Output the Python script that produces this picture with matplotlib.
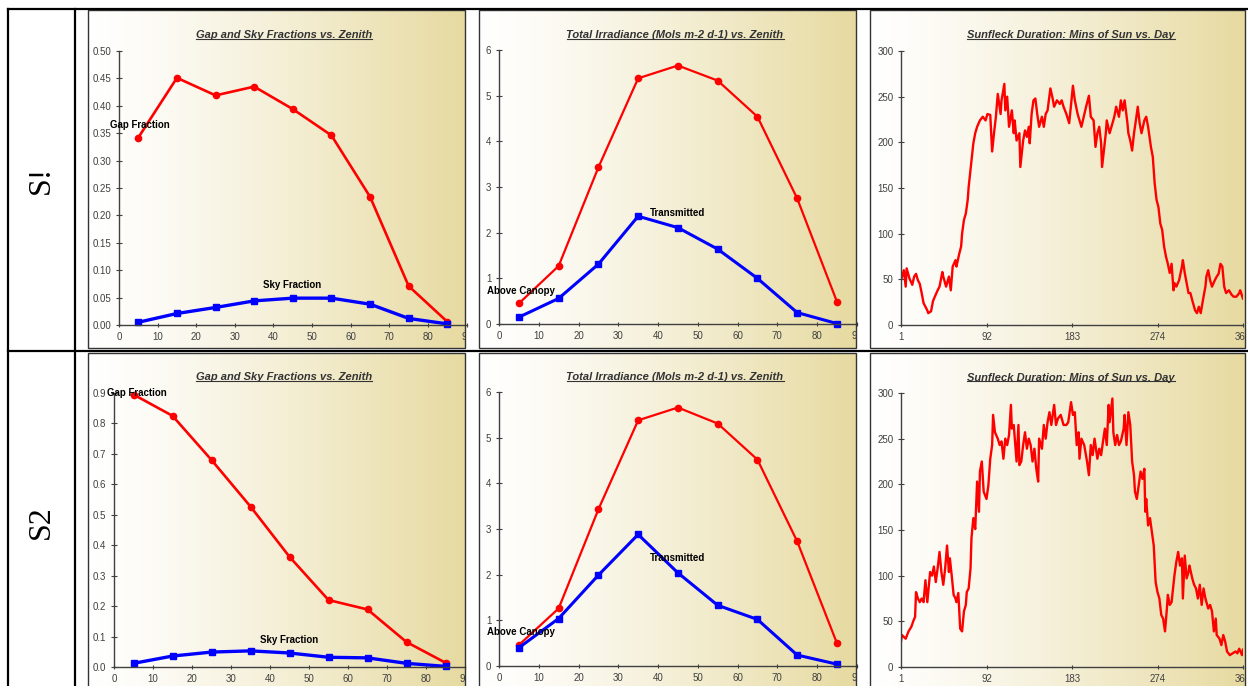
import numpy as np
import matplotlib
matplotlib.use("Agg")
import matplotlib.pyplot as plt
from matplotlib import font_manager
from matplotlib.lines import Line2D
from matplotlib.patches import Rectangle

W, H = 1248, 686

# ---- data ----
zenith = [5, 15, 25, 35, 45, 55, 65, 75, 85]

gap_s1 = [0.342, 0.451, 0.419, 0.435, 0.394, 0.346, 0.234, 0.071, 0.006]
sky_s1 = [0.005, 0.021, 0.032, 0.044, 0.049, 0.049, 0.038, 0.012, 0.002]
above_s1 = [0.45, 1.27, 3.43, 5.38, 5.66, 5.33, 4.54, 2.75, 0.49]
trans_s1 = [0.15, 0.56, 1.31, 2.36, 2.11, 1.64, 1.00, 0.25, 0.01]

gap_s2 = [0.895, 0.825, 0.680, 0.527, 0.362, 0.220, 0.189, 0.082, 0.014]
sky_s2 = [0.012, 0.036, 0.049, 0.053, 0.046, 0.032, 0.030, 0.012, 0.002]
above_s2 = [0.46, 1.26, 3.43, 5.38, 5.66, 5.31, 4.52, 2.73, 0.50]
trans_s2 = [0.40, 1.04, 1.99, 2.88, 2.04, 1.33, 1.02, 0.24, 0.04]

sun_days_s1 = [1, 4, 6, 7, 10, 13, 15, 17, 19, 21,
               23, 25, 29, 30, 33, 35, 37, 40, 42, 45,
               46, 49, 52, 54, 56, 59, 60, 63, 65, 66,
               68, 70, 72, 73, 75, 76, 78, 80, 82, 85,
               88, 91, 93, 96, 98, 100, 102, 104, 107, 108,
               111, 112, 114, 116, 119, 121, 122, 124, 127, 128,
               131, 133, 135, 137, 138, 140, 142, 144, 146, 148,
               151, 153, 155, 157, 160, 162, 164, 167, 170, 172,
               174, 177, 180, 182, 184, 186, 189, 191, 193, 195,
               198, 201, 203, 206, 208, 210, 212, 214, 215, 217,
               219, 220, 223, 225, 228, 230, 233, 235, 237, 239,
               242, 243, 245, 247, 249, 251, 253, 255, 257, 260,
               262, 264, 267, 269, 271, 273, 275, 277, 279, 281,
               283, 285, 287, 289, 291, 292, 294, 297, 300, 301,
               303, 305, 307, 309, 311, 314, 316, 318, 320, 323,
               325, 326, 328, 330, 332, 335, 337, 339, 341, 343,
               345, 347, 350, 353, 355, 358, 361, 362, 365]
sun_mins_s1 = [49, 60, 42, 62, 51, 44, 53, 56, 49, 45,
               35, 24, 16, 13, 15, 26, 31, 38, 42, 58,
               53, 42, 53, 38, 64, 71, 64, 78, 86, 100,
               115, 122, 137, 151, 170, 180, 199, 210, 217, 224,
               228, 224, 231, 230, 190, 210, 228, 253, 231, 246,
               264, 235, 250, 217, 235, 210, 224, 202, 210, 173,
               202, 213, 206, 217, 199, 231, 246, 248, 231, 217,
               228, 217, 231, 235, 259, 250, 239, 246, 242, 246,
               239, 231, 221, 242, 262, 246, 231, 224, 217, 226,
               239, 251, 228, 224, 195, 210, 217, 199, 173, 191,
               210, 224, 210, 217, 228, 239, 228, 246, 235, 246,
               221, 210, 202, 191, 210, 224, 239, 221, 210, 224,
               228, 217, 195, 184, 155, 137, 129, 111, 104, 86,
               75, 67, 57, 67, 38, 46, 42, 49, 64, 71,
               57, 46, 35, 35, 27, 16, 13, 20, 13, 31,
               42, 53, 60, 49, 42, 49, 53, 56, 67, 64,
               42, 35, 38, 33, 31, 31, 35, 38, 29]

sun_days_s2 = [1, 2, 6, 9, 12, 14, 16, 17, 19, 21,
               23, 25, 27, 29, 30, 32, 34, 36, 38, 40,
               42, 44, 46, 48, 50, 52, 53, 55, 57, 59,
               60, 62, 64, 66, 68, 70, 71, 73, 75, 76,
               78, 80, 82, 84, 85, 87, 89, 92, 94, 96,
               98, 99, 101, 104, 106, 108, 110, 112, 114, 116,
               118, 119, 121, 124, 126, 127, 129, 131, 133, 135,
               137, 139, 141, 143, 145, 147, 148, 151, 153, 155,
               157, 159, 161, 164, 166, 168, 171, 174, 177, 179,
               182, 184, 186, 188, 190, 191, 193, 196, 199, 201,
               203, 205, 207, 210, 212, 214, 216, 218, 220, 222,
               223, 226, 227, 229, 231, 233, 235, 238, 239, 241,
               243, 245, 247, 249, 250, 252, 254, 256, 258, 260,
               261, 262, 264, 266, 268, 270, 272, 274, 276, 278,
               280, 282, 284, 285, 287, 289, 291, 292, 294, 296,
               298, 300, 301, 303, 305, 307, 308, 311, 313, 315,
               317, 319, 321, 323, 325, 328, 330, 332, 334, 336,
               337, 340, 342, 344, 346, 348, 351, 354, 357, 359,
               361, 364, 365]
sun_mins_s2 = [28, 35, 31, 39, 44, 50, 55, 82, 75, 71,
               75, 71, 95, 71, 82, 104, 100, 110, 93, 108,
               126, 104, 90, 108, 133, 104, 119, 100, 79, 75,
               71, 81, 42, 39, 61, 68, 82, 86, 108, 141,
               163, 151, 203, 170, 214, 225, 192, 184, 199, 228,
               243, 276, 257, 250, 243, 247, 228, 250, 243, 254,
               287, 261, 265, 225, 265, 221, 225, 243, 257, 239,
               250, 243, 225, 239, 217, 203, 250, 239, 265, 250,
               268, 279, 265, 287, 265, 272, 276, 265, 265, 268,
               290, 276, 279, 243, 257, 228, 250, 243, 225, 210,
               243, 232, 250, 228, 239, 232, 247, 261, 243, 287,
               268, 294, 257, 243, 254, 243, 247, 261, 276, 243,
               279, 265, 225, 210, 192, 184, 199, 214, 206, 217,
               170, 184, 155, 163, 148, 133, 93, 82, 75, 57,
               53, 39, 64, 79, 68, 71, 90, 100, 115, 126,
               111, 119, 75, 122, 97, 104, 111, 97, 90, 86,
               75, 90, 68, 86, 75, 64, 68, 61, 39, 53,
               35, 31, 24, 35, 28, 17, 13, 15, 17, 15,
               20, 13, 19]

row_labels = ["S!", "S2"]
titles = ["Gap and Sky Fractions vs. Zenith",
          "Total Irradiance (Mols m-2 d-1) vs. Zenith",
          "Sunfleck Duration: Mins of Sun vs. Day"]
zen_ticks = [0, 10, 20, 30, 40, 50, 60, 70, 80, 90]
day_ticks = [1, 92, 183, 274, 365]

names = {f.name for f in font_manager.fontManager.ttflist}
NARROW = "Liberation Sans Narrow" if "Liberation Sans Narrow" in names else "Liberation Sans"
SERIF = "Liberation Serif" if "Liberation Serif" in names else "DejaVu Serif"

RED = "#ff0000"
BLUE = "#0000ff"
GREY = "#404040"


def rect(x0, y0, x1, y1):
    # pixel box (top-left origin) -> figure fraction
    return [x0 / W, 1 - y1 / H, (x1 - x0) / W, (y1 - y0) / H]


fig = plt.figure(figsize=(W / 100, H / 100), dpi=100)
fig.patch.set_facecolor("white")

# gradient used for the chart backgrounds
g = np.linspace(0, 1, 300) ** 1.25
c0 = np.array([1.0, 1.0, 1.0])
c1 = np.array([0.905, 0.855, 0.63])
grad = (c0 + (c1 - c0) * g[:, None])[None, :, :]

panel_x = [(88, 465), (479, 856), (870, 1245)]
panel_y = [(10, 348), (353, 720)]

bg_axes = {}
for r, (py0, py1) in enumerate(panel_y):
    for c, (px0, px1) in enumerate(panel_x):
        b = fig.add_axes(rect(px0, py0, px1, py1), zorder=0)
        b.imshow(grad, aspect="auto", extent=[0, 1, 0, 1])
        b.set_axis_off()
        bg_axes[(r, c)] = b
        fig.add_artist(Rectangle((px0 / W, 1 - py1 / H), (px1 - px0) / W, (py1 - py0) / H,
                                 transform=fig.transFigure, fill=False,
                                 edgecolor="#333333", lw=1.0, zorder=5))

# plot area boxes (left, top, right, bottom) in pixels
plot_boxes = {
    (0, 0): (119, 51, 466.6, 325),
    (0, 1): (499, 50, 856.8, 324),
    (0, 2): (901, 51, 1243, 325),
    (1, 0): (114, 393, 465, 667),
    (1, 1): (499, 392, 856.8, 666),
    (1, 2): (901, 393, 1243, 667),
}


def make_ax(key):
    x0, y0, x1, y1 = plot_boxes[key]
    ax = fig.add_axes(rect(x0, y0, x1, y1), zorder=2)
    ax.patch.set_visible(False)
    for s in ["top", "right"]:
        ax.spines[s].set_visible(False)
    for s in ["left", "bottom"]:
        ax.spines[s].set_color(GREY)
        ax.spines[s].set_linewidth(1.0)
    ax.tick_params(axis="y", direction="inout", length=5, width=0.8, color=GREY,
                   labelsize=7, labelcolor=GREY, pad=3)
    ax.tick_params(axis="x", direction="inout", length=3, width=0.8, color=GREY,
                   labelsize=7, labelcolor=GREY, pad=3.5)
    return ax


def finish(ax, key):
    # the reference crops the last x label at the chart edge
    for lbl in ax.get_xticklabels() + ax.get_yticklabels():
        lbl.set_family(NARROW)
        lbl.set_clip_box(bg_axes[key].bbox)
        lbl.set_clip_on(True)


def label(ax, x, y, s, ha="left"):
    ax.text(x, y, s, ha=ha, va="center", fontsize=7, fontweight="bold",
            family=NARROW, color="black", clip_on=False, zorder=6)


rows = [
    dict(gap=gap_s1, sky=sky_s1, above=above_s1, trans=trans_s1,
         days=sun_days_s1, mins=sun_mins_s1, gmax=0.5,
         gticks=np.arange(0, 0.501, 0.05), gfmt="{:.2f}",
         gap_lbl=(-2.3, 0.365), sky_lbl=(44.7, 0.073),
         above_lbl=(-3.0, 0.72), trans_lbl=(38.0, 2.43)),
    dict(gap=gap_s2, sky=sky_s2, above=above_s2, trans=trans_s2,
         days=sun_days_s2, mins=sun_mins_s2, gmax=0.9,
         gticks=np.arange(0, 0.901, 0.1), gfmt="{:.1f}",
         gap_lbl=(-1.9, 0.901), sky_lbl=(44.8, 0.088),
         above_lbl=(-3.0, 0.74), trans_lbl=(38.0, 2.36)),
]

for r, d in enumerate(rows):
    # gap / sky fractions
    ax = make_ax((r, 0))
    ax.plot(zenith, d["gap"], color=RED, lw=1.9, marker="o", ms=4.5, clip_on=False)
    ax.plot(zenith, d["sky"], color=BLUE, lw=2.4, marker="s", ms=4.5, clip_on=False)
    ax.set_xlim(0, 90)
    ax.set_ylim(0, d["gmax"])
    ax.set_xticks(zen_ticks)
    ax.set_xticklabels([str(t) for t in zen_ticks])
    ax.set_yticks(d["gticks"])
    ax.set_yticklabels([d["gfmt"].format(t) for t in d["gticks"]])
    label(ax, *d["gap_lbl"], "Gap Fraction")
    label(ax, *d["sky_lbl"], "Sky Fraction", ha="center")
    finish(ax, (r, 0))

    # irradiance
    ax = make_ax((r, 1))
    ax.plot(zenith, d["above"], color=RED, lw=1.6, marker="o", ms=4.5, clip_on=False)
    ax.plot(zenith, d["trans"], color=BLUE, lw=2.2, marker="s", ms=4.5, clip_on=False)
    ax.set_xlim(0, 90)
    ax.set_ylim(0, 6)
    ax.set_xticks(zen_ticks)
    ax.set_xticklabels([str(t) for t in zen_ticks])
    ax.set_yticks(range(0, 7))
    ax.set_yticklabels([str(t) for t in range(0, 7)])
    label(ax, *d["above_lbl"], "Above Canopy")
    label(ax, *d["trans_lbl"], "Transmitted")
    finish(ax, (r, 1))

    # sunfleck duration
    ax = make_ax((r, 2))
    ax.plot(d["days"], d["mins"], color=RED, lw=1.7)
    ax.set_xlim(1, 365)
    ax.set_ylim(0, 300)
    ax.set_xticks(day_ticks)
    ax.set_xticklabels([str(t) for t in day_ticks])
    ax.set_yticks(range(0, 301, 50))
    ax.set_yticklabels([str(t) for t in range(0, 301, 50)])
    finish(ax, (r, 2))

# titles
title_pos = [[(284, 35), (675, 35), (1071, 35)],
             [(284, 377), (675, 377), (1071, 378)]]
title_artists = []
for r in range(2):
    for c in range(3):
        px, py = title_pos[r][c]
        t = fig.text(px / W, 1 - py / H, titles[c], ha="center", va="center",
                     fontsize=8, fontweight="bold", fontstyle="italic",
                     family=NARROW, color="#333333", zorder=6)
        title_artists.append(t)

# row labels
fig.text(41 / W, 1 - 180 / H, row_labels[0], rotation=90, ha="center", va="center",
         family=SERIF, fontsize=23)
fig.text(41 / W, 1 - 522 / H, row_labels[1], rotation=90, ha="center", va="center",
         family=SERIF, fontsize=23)

# table rules
for xs, ys in [((8, 8), (9, 700)), ((75, 75), (9, 700)),
               ((8, 1248), (9, 9)), ((8, 1248), (350.5, 350.5))]:
    fig.add_artist(Line2D([x / W for x in xs], [1 - y / H for y in ys],
                          color="black", lw=1.6, zorder=7))

# underline titles
fig.canvas.draw()
rend = fig.canvas.get_renderer()
for t in title_artists:
    bb = t.get_window_extent(rend)
    fig.add_artist(Line2D([bb.x0 / W, bb.x1 / W], [(bb.y0 + 1.5) / H] * 2,
                          color="#333333", lw=0.8, zorder=6))

fig.savefig("out.png", dpi=100)
